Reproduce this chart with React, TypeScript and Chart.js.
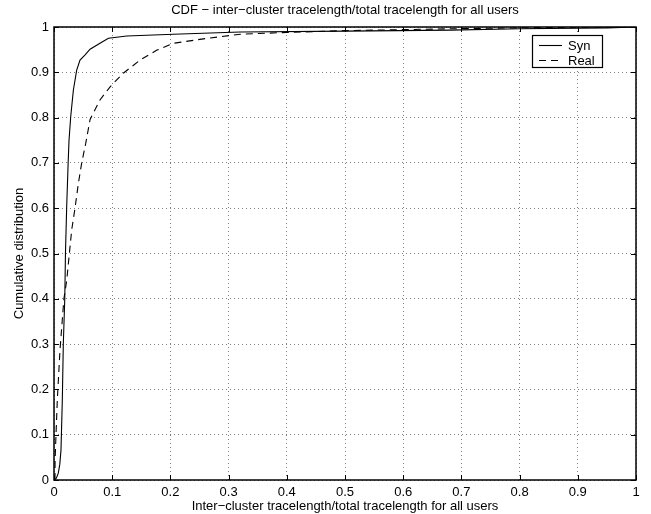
import React, { useEffect, useRef } from 'react';
import { Chart, registerables } from 'chart.js';
Chart.register(...registerables);

const titleText = 'CDF − inter−cluster tracelength/total tracelength for all users';
const xLabel = 'Inter−cluster tracelength/total tracelength for all users';
const yLabel = 'Cumulative distribution';
const seriesNames = ['Syn', 'Real'];

const synX = [0, 0.004, 0.0074, 0.010, 0.012, 0.0143, 0.016, 0.0185, 0.0197, 0.0218, 0.0243, 0.0258, 0.0287, 0.0333, 0.039, 0.0447, 0.053, 0.062, 0.079, 0.0935, 0.125, 0.205, 0.32, 0.5, 0.68, 0.8, 0.95, 1.0];
const synY = [0, 0.004, 0.015, 0.035, 0.066, 0.177, 0.30, 0.40, 0.50, 0.603, 0.70, 0.75, 0.802, 0.861, 0.905, 0.927, 0.938, 0.951, 0.964, 0.975, 0.980, 0.984, 0.989, 0.991, 0.993, 0.996, 0.998, 1.0];

const realX = [0.0017, 0.0018, 0.0029, 0.0057, 0.0103, 0.017, 0.0218, 0.0264, 0.0304, 0.0361, 0.0419, 0.0476, 0.0545, 0.062, 0.079, 0.0964, 0.119, 0.148, 0.177, 0.205, 0.263, 0.32, 0.4, 0.5, 0.68, 0.85, 1.0];
const realY = [0, 0.04, 0.081, 0.177, 0.287, 0.40, 0.44, 0.50, 0.552, 0.60, 0.655, 0.70, 0.743, 0.796, 0.839, 0.868, 0.898, 0.927, 0.949, 0.964, 0.975, 0.984, 0.988, 0.992, 0.996, 0.999, 1.0];

const xTicks = [0, 0.1, 0.2, 0.3, 0.4, 0.5, 0.6, 0.7, 0.8, 0.9, 1];
const yTicks = [0, 0.1, 0.2, 0.3, 0.4, 0.5, 0.6, 0.7, 0.8, 0.9, 1];

const FONT = 'Liberation Sans, Arial, Helvetica, sans-serif';

const fmt = (v: number) => String(Math.round(v * 10) / 10);

const framePlugin = {
  id: 'frameAndLegend',
  afterDatasetsDraw(chart: any) {
    const { ctx, chartArea: a, scales } = chart;
    const xs = scales.x;
    const ys = scales.y;
    ctx.save();
    ctx.strokeStyle = '#000';
    ctx.lineWidth = 1;
    ctx.setLineDash([]);
    const tl = 5;
    ctx.beginPath();
    xTicks.forEach((v) => {
      const px = Math.round(xs.getPixelForValue(v)) + 0.5;
      ctx.moveTo(px, a.bottom);
      ctx.lineTo(px, a.bottom - tl);
      ctx.moveTo(px, a.top);
      ctx.lineTo(px, a.top + tl);
    });
    yTicks.forEach((v) => {
      const py = Math.round(ys.getPixelForValue(v)) + 0.5;
      ctx.moveTo(a.left, py);
      ctx.lineTo(a.left + tl, py);
      ctx.moveTo(a.right, py);
      ctx.lineTo(a.right - tl, py);
    });
    ctx.stroke();
    ctx.lineWidth = 1.5;
    ctx.strokeRect(a.left, a.top, a.right - a.left, a.bottom - a.top);

    // title
    ctx.fillStyle = '#000';
    ctx.font = `13px ${FONT}`;
    ctx.textAlign = 'center';
    ctx.textBaseline = 'middle';
    ctx.fillText(titleText, (a.left + a.right) / 2, 10);

    // legend
    const lx = 532, ly = 35, lw = 70, lh = 32;
    ctx.fillStyle = '#fff';
    ctx.fillRect(lx, ly, lw, lh);
    ctx.lineWidth = 1.2;
    ctx.strokeRect(lx + 0.5, ly + 0.5, lw, lh);
    const ds = chart.data.datasets;
    ctx.textAlign = 'left';
    ds.forEach((d: any, i: number) => {
      const y = ly + 10.5 + i * 15;
      ctx.beginPath();
      ctx.lineWidth = d.borderWidth;
      ctx.setLineDash(d.borderDash || []);
      ctx.moveTo(lx + 7, y);
      ctx.lineTo(lx + 30, y);
      ctx.stroke();
      ctx.setLineDash([]);
      ctx.fillStyle = '#000';
      ctx.fillText(d.label, lx + 36, y + 1);
    });
    ctx.restore();
  },
};

export default function App() {
  const ref = useRef<HTMLCanvasElement>(null);
  useEffect(() => {
    if (!ref.current) return;
    const chart = new Chart(ref.current, {
      type: 'scatter',
      data: {
        datasets: [
          {
            label: seriesNames[0],
            data: synX.map((x, i) => ({ x, y: synY[i] })),
            showLine: true,
            borderColor: '#000',
            borderWidth: 1.1,
            pointRadius: 0,
            tension: 0,
          },
          {
            label: seriesNames[1],
            data: realX.map((x, i) => ({ x, y: realY[i] })),
            showLine: true,
            borderColor: '#000',
            borderWidth: 1.1,
            borderDash: [7, 5],
            pointRadius: 0,
            tension: 0,
          },
        ],
      },
      options: {
        animation: false,
        responsive: true,
        maintainAspectRatio: false,
        layout: { padding: { left: 0, right: 15, top: 27, bottom: 0 } },
        plugins: {
          legend: { display: false },
          tooltip: { enabled: false },
          title: { display: false },
        },
        scales: {
          x: {
            type: 'linear',
            min: 0,
            max: 1,
            afterBuildTicks: (s: any) => { s.ticks = xTicks.map((v) => ({ value: v })); },
            afterFit: (s: any) => { s.height = 34; },
            ticks: {
              color: '#000',
              font: { family: FONT, size: 13 },
              padding: 5,
              maxRotation: 0,
              autoSkip: false,
              callback: (v: any) => fmt(Number(v)),
            },
            grid: {
              color: 'rgba(0,0,0,0.5)',
              borderDash: [1, 3],
              drawTicks: false,
              lineWidth: 1,
            },
            border: { display: false, dash: [1, 3] },
            title: {
              display: true,
              text: xLabel,
              color: '#000',
              font: { family: FONT, size: 13 },
              padding: { top: 0, bottom: 0 },
            },
          },
          y: {
            type: 'linear',
            min: 0,
            max: 1,
            afterBuildTicks: (s: any) => { s.ticks = yTicks.map((v) => ({ value: v })); },
            afterFit: (s: any) => { s.width = 54; },
            ticks: {
              color: '#000',
              font: { family: FONT, size: 13 },
              padding: 5,
              autoSkip: false,
              callback: (v: any) => fmt(Number(v)),
            },
            grid: {
              color: 'rgba(0,0,0,0.5)',
              borderDash: [1, 3],
              drawTicks: false,
              lineWidth: 1,
            },
            border: { display: false, dash: [1, 3] },
            title: {
              display: true,
              text: yLabel,
              color: '#000',
              font: { family: FONT, size: 13 },
              padding: { top: 12, bottom: 0 },
            },
          },
        },
      } as any,
      plugins: [framePlugin],
    });
    return () => chart.destroy();
  }, []);
  return (
    <div style={{ position: 'fixed', left: 0, top: 0, width: 651, height: 514, background: '#fff' }}>
      <canvas ref={ref} />
    </div>
  );
}
